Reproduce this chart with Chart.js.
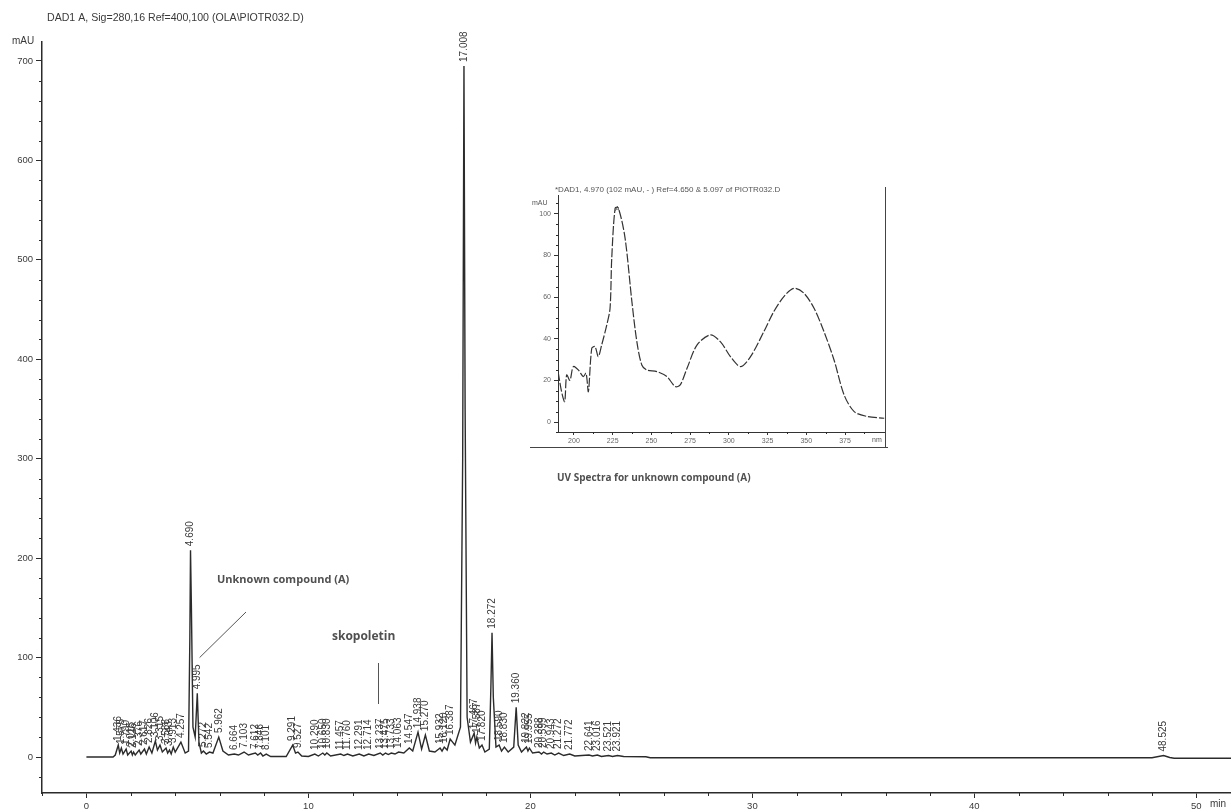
<!DOCTYPE html>
<html>
<head>
<meta charset="utf-8">
<script src="https://cdn.jsdelivr.net/npm/chart.js@4.4.0/dist/chart.umd.min.js"></script>
<style>
  html, body { margin: 0; padding: 0; background: #fff; }
  #wrap { position: relative; width: 1231px; height: 809px; }
  #main { position: absolute; left: 0; top: 0; }
  #inset { position: absolute; left: 500px; top: 180px; }
</style>
</head>
<body>
<div id="wrap">
  <canvas id="main" width="1231" height="809"></canvas>
  <canvas id="inset" width="400" height="270"></canvas>
</div>
<script>
// chromatogram trace (time in min, signal in mAU)
var times = [0, 1.2, 1.3, 1.436, 1.5, 1.575, 1.65, 1.79, 1.86, 2.015, 2.07, 2.126, 2.2, 2.376, 2.45, 2.617, 2.7, 2.826, 2.95,
  3.106, 3.2, 3.315, 3.42, 3.588, 3.66, 3.743, 3.82, 3.913, 4.0, 4.257, 4.45, 4.6, 4.66, 4.69, 4.73, 4.8, 4.9, 4.995, 5.07,
  5.18, 5.272, 5.4, 5.542, 5.7, 5.962, 6.15, 6.4, 6.664, 6.85, 7.103, 7.3, 7.612, 7.72, 7.846, 7.95, 8.101, 8.3, 9.0,
  9.291, 9.42, 9.527, 9.7, 10.0, 10.29, 10.45, 10.65, 10.74, 10.83, 11.0, 11.457, 11.6, 11.76, 12.0, 12.291, 12.5, 12.714,
  12.95, 13.237, 13.35, 13.475, 13.6, 13.733, 13.9, 14.063, 14.3, 14.547, 14.7, 14.938, 15.1, 15.27, 15.45, 15.7, 15.932,
  16.02, 16.12, 16.25, 16.387, 16.6, 16.85, 16.95, 17.008, 17.06, 17.15, 17.3, 17.467, 17.53, 17.587, 17.7, 17.82, 17.95,
  18.15, 18.22, 18.272, 18.33, 18.45, 18.59, 18.7, 18.83, 19.0, 19.25, 19.36, 19.45, 19.6, 19.822, 19.89, 19.955, 20.1,
  20.388, 20.5, 20.599, 20.75, 20.943, 21.1, 21.272, 21.5, 21.772, 22.0, 22.641, 22.8, 23.016, 23.2, 23.521, 23.7, 23.921,
  24.2, 25.2, 25.4, 48.0, 48.525, 48.8, 49.0, 51.56];
var signal = [0, 0, 2, 12, 4, 9, 3, 8, 2, 6, 2, 5, 2, 7, 3, 8, 3, 10, 4,
  16, 7, 12, 5, 9, 4, 7, 3, 10, 5, 15, 4, 6, 120, 208, 150, 30, 20, 64, 15,
  4, 6, 3, 5, 4, 20, 6, 2, 3, 2, 5, 2, 4, 2, 4, 1, 3, 0.5, 0.5,
  12, 4, 5, 1, 0.5, 3, 1, 4, 2, 4, 1, 3, 1.5, 3, 1, 3, 1, 3,
  1.5, 4, 2, 4, 2.5, 4, 3, 5, 4, 9, 6, 25, 8, 22, 6, 5, 9,
  6, 10, 7, 18, 12, 30, 300, 695, 350, 40, 15, 24, 14, 20, 9, 12, 5,
  8, 70, 125, 60, 10, 12, 6, 10, 5, 10, 50, 12, 5, 10, 6, 9, 4,
  5, 3, 5, 3, 4, 2, 4, 1.5, 3, 1, 2, 1, 2, 0.5, 1.5, 0.5, 1.5,
  0.5, 0.3, -0.8, -0.8, 1.5, -0.5, -1.2, -1.2];

// retention time labels printed above the peaks
var peakLabels = ['1.436', '1.575', '1.790', '2.015', '2.126', '2.376', '2.617', '2.826', '3.106', '3.315', '3.588', '3.743',
  '3.913', '4.257', '4.690', '4.995', '5.272', '5.542', '5.962', '6.664', '7.103', '7.612', '7.846', '8.101', '9.291', '9.527',
  '10.290', '10.650', '10.830', '11.457', '11.760', '12.291', '12.714', '13.237', '13.475', '13.733', '14.063', '14.547',
  '14.938', '15.270', '15.932', '16.120', '16.387', '17.008', '17.467', '17.587', '17.820', '18.272', '18.590', '18.830',
  '19.360', '19.822', '19.955', '20.388', '20.599', '20.943', '21.272', '21.772', '22.641', '23.016', '23.521', '23.921',
  '48.525'];

var xMajor = [0, 10, 20, 30, 40, 50];
var yMajor = [0, 100, 200, 300, 400, 500, 600, 700];

// UV spectrum of compound (A), inset
var uvNm = [189.8, 192, 194, 195.3, 197.4, 199.6, 202.8, 206, 207.8, 209.3, 211.5, 213.6, 215.7, 217.9, 221.2, 223.3, 224.4,
  226.6, 228.7, 233, 237.4, 240.6, 243.8, 247, 253.5, 260, 265.4, 268.6, 273, 279.5, 288, 294.5, 301, 307.5, 314, 322.6,
  329, 335.5, 342, 348.5, 355, 361.4, 367.9, 374.4, 380.9, 389.5, 400.3];
var uvMau = [24, 14.6, 9.8, 22.6, 20, 26.6, 25, 21.8, 23.5, 14.6, 35.4, 36.2, 31.4, 37, 46.6, 54.6, 78.7,
  102.7, 102.7, 88.3, 57.8, 38.6, 27.4, 25, 24.2, 21.8, 17, 17.8, 25.8, 37, 41.8, 38.6, 31.4, 26.6, 31.4, 43.4,
  53, 60.2, 64.2, 61.8, 54.6, 43.4, 29.8, 13, 5, 2.6, 1.8];
var uvXTicks = [200, 225, 250, 275, 300, 325, 350, 375];
var uvYTicks = [0, 20, 40, 60, 80, 100];

var ink = '#2b2b2b';
var txt = '#3a3a3a';

function pts(xs, ys) {
  return xs.map(function(v, i) { return { x: v, y: ys[i] }; });
}

function setTicks(list) {
  return function(scale) { scale.ticks = list.map(function(v) { return { value: v }; }); };
}

function range(a, b, step) {
  var out = [];
  for (var v = a; v <= b + 1e-9; v += step) out.push(Math.round(v * 100) / 100);
  return out;
}

function minorTicks(chart, xs, ys, len) {
  var ctx = chart.ctx, sx = chart.scales.x, sy = chart.scales.y, a = chart.chartArea;
  ctx.save();
  ctx.strokeStyle = ink;
  ctx.lineWidth = 1;
  ctx.beginPath();
  xs.forEach(function(v) {
    var p = Math.round(sx.getPixelForValue(v)) + 0.5;
    ctx.moveTo(p, a.bottom); ctx.lineTo(p, a.bottom + len);
  });
  ys.forEach(function(v) {
    var p = Math.round(sy.getPixelForValue(v)) + 0.5;
    ctx.moveTo(a.left, p); ctx.lineTo(a.left - len, p);
  });
  ctx.stroke();
  ctx.restore();
}

var mainDecor = {
  id: 'mainDecor',
  afterDraw: function(chart) {
    var ctx = chart.ctx, sx = chart.scales.x, sy = chart.scales.y;
    minorTicks(chart, range(-2, 50, 2).filter(function(v) { return xMajor.indexOf(v) < 0; }),
      range(-20, 700, 20).filter(function(v) { return yMajor.indexOf(v) < 0; }), 3);

    ctx.save();
    ctx.fillStyle = txt;
    ctx.textBaseline = 'middle';
    ctx.font = '10.6px "Liberation Sans", Arial, sans-serif';
    ctx.fillText('DAD1 A, Sig=280,16 Ref=400,100 (OLA\\PIOTR032.D)', 47, 18);
    ctx.font = '10px "Liberation Sans", Arial, sans-serif';
    ctx.fillText('mAU', 12, 41);
    ctx.fillText('min', 1210, 804);

    // peak labels, rotated, just above each peak top
    peakLabels.forEach(function(lab) {
      var t = parseFloat(lab), top = -Infinity;
      times.forEach(function(v, i) { if (Math.abs(v - t) < 0.03) top = Math.max(top, signal[i]); });
      var px = sx.getPixelForValue(t), py = sy.getPixelForValue(top) - 4;
      ctx.save();
      ctx.translate(px, py);
      ctx.rotate(-Math.PI / 2);
      ctx.textAlign = 'left';
      ctx.fillText(lab, 0, 0);
      ctx.restore();
    });

    // annotations
    ctx.fillStyle = '#505050';
    ctx.font = 'bold 11px "Open Sans", sans-serif';
    ctx.fillText('Unknown compound (A)', 217, 580);
    ctx.font = 'bold 12px "Open Sans", sans-serif';
    ctx.fillText('skopoletin', 332, 637);
    ctx.font = 'bold 10px "Open Sans", sans-serif';
    ctx.fillText('UV Spectra for unknown compound (A)', 557, 478);

    ctx.strokeStyle = '#555';
    ctx.lineWidth = 1;
    ctx.beginPath();
    ctx.moveTo(246, 612); ctx.lineTo(sx.getPixelForValue(5.1), sy.getPixelForValue(100));
    ctx.moveTo(378.5, 663); ctx.lineTo(378.5, 704);
    ctx.stroke();
    ctx.restore();
  }
};

new Chart(document.getElementById('main'), {
  type: 'line',
  data: {
    datasets: [{
      data: pts(times, signal),
      borderColor: ink,
      borderWidth: 1.4,
      pointRadius: 0,
      tension: 0
    }]
  },
  options: {
    responsive: false,
    animation: false,
    devicePixelRatio: 1,
    layout: { padding: { top: 42, left: 0, right: 0, bottom: 0 } },
    plugins: { legend: { display: false }, tooltip: { enabled: false } },
    scales: {
      x: {
        type: 'linear', min: -2, max: 51.56,
        afterBuildTicks: setTicks(xMajor),
        afterFit: function(s) { s.height = 16; },
        grid: { drawOnChartArea: false, tickLength: 5, tickColor: ink },
        border: { color: ink, width: 1.5 },
        ticks: { autoSkip: false, maxRotation: 0, padding: 3, color: txt,
          font: { size: 9.5, family: '"Liberation Sans", Arial, sans-serif' } }
      },
      y: {
        type: 'linear', min: -36.2, max: 719.1,
        afterBuildTicks: setTicks(yMajor),
        afterFit: function(s) { s.width = 42; },
        grid: { drawOnChartArea: false, tickLength: 6, tickColor: ink },
        border: { color: ink, width: 1.5 },
        ticks: { autoSkip: false, padding: 3, color: txt,
          font: { size: 9.5, family: '"Liberation Sans", Arial, sans-serif' } }
      }
    }
  },
  plugins: [mainDecor]
});

var insetDecor = {
  id: 'insetDecor',
  afterDraw: function(chart) {
    var ctx = chart.ctx;
    minorTicks(chart, range(187.5, 387.5, 12.5).filter(function(v) { return uvXTicks.indexOf(v) < 0 && v > 190; }),
      range(-5, 105, 5).filter(function(v) { return uvYTicks.indexOf(v) < 0; }), 2);
    ctx.save();
    ctx.fillStyle = '#555';
    ctx.font = '8px "Liberation Sans", Arial, sans-serif';
    ctx.textBaseline = 'middle';
    ctx.fillText('*DAD1, 4.970 (102 mAU, - ) Ref=4.650 & 5.097 of PIOTR032.D', 55, 10);
    ctx.font = '7px "Liberation Sans", Arial, sans-serif';
    ctx.fillText('mAU', 32, 23);
    ctx.fillText('nm', 372, 260);
    ctx.fillText('A', 115, 29);
    ctx.strokeStyle = '#444';
    ctx.lineWidth = 1;
    ctx.beginPath();
    ctx.moveTo(385.5, 7); ctx.lineTo(385.5, 267.5);
    ctx.moveTo(30, 267.5); ctx.lineTo(388, 267.5);
    ctx.stroke();
    ctx.restore();
  }
};

new Chart(document.getElementById('inset'), {
  type: 'line',
  data: {
    datasets: [{
      data: pts(uvNm, uvMau),
      borderColor: '#333',
      borderWidth: 1.2,
      borderDash: [9, 2],
      pointRadius: 0,
      tension: 0.3
    }]
  },
  options: {
    responsive: false,
    animation: false,
    devicePixelRatio: 1,
    layout: { padding: { top: 15, right: 15, left: 0, bottom: 0 } },
    plugins: { legend: { display: false }, tooltip: { enabled: false } },
    scales: {
      x: {
        type: 'linear', min: 189.7, max: 400.8,
        afterBuildTicks: setTicks(uvXTicks),
        afterFit: function(s) { s.height = 18; },
        grid: { drawOnChartArea: false, tickLength: 3, tickColor: '#333' },
        border: { color: '#333', width: 1 },
        ticks: { autoSkip: false, maxRotation: 0, padding: 2, color: '#666',
          font: { size: 7, family: '"Liberation Sans", Arial, sans-serif' } }
      },
      y: {
        type: 'linear', min: -4.8, max: 109,
        afterBuildTicks: setTicks(uvYTicks),
        afterFit: function(s) { s.width = 58; },
        grid: { drawOnChartArea: false, tickLength: 4, tickColor: '#333' },
        border: { color: '#333', width: 1 },
        ticks: { autoSkip: false, padding: 3, color: '#666',
          font: { size: 7, family: '"Liberation Sans", Arial, sans-serif' } }
      }
    }
  },
  plugins: [insetDecor]
});
</script>
</body>
</html>
